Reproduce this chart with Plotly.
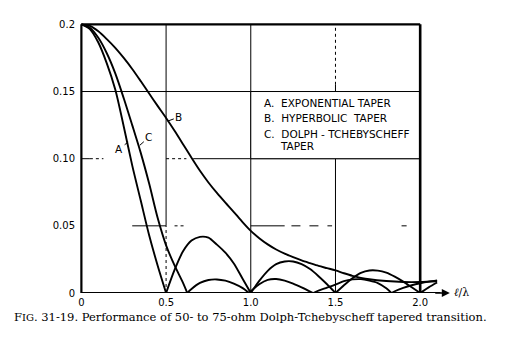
import plotly.graph_objects as go

# l/lambda sample positions and |rho| values
x_A = [0, 0.05, 0.10, 0.15, 0.20, 0.25, 0.30, 0.35, 0.40, 0.45, 0.50, 0.55, 0.60, 0.65, 0.70,
       0.75, 0.80, 0.85, 0.90, 0.95, 1.00, 1.05, 1.10, 1.15, 1.20, 1.25, 1.30, 1.35, 1.40, 1.45,
       1.50, 1.55, 1.60, 1.65, 1.70, 1.75, 1.80, 1.85, 1.90, 1.95, 2.00, 2.05, 2.10]
rho_A = [0.200, 0.1965, 0.1865, 0.171, 0.1515, 0.124, 0.095, 0.069, 0.043, 0.0205, 0.0,
         0.0172, 0.031, 0.039, 0.0418, 0.0412, 0.036, 0.030, 0.022, 0.011, 0.0,
         0.009, 0.0165, 0.0215, 0.0235, 0.0235, 0.0215, 0.0178, 0.0125, 0.0065, 0.0,
         0.0058, 0.011, 0.015, 0.0168, 0.0167, 0.0152, 0.0122, 0.0085, 0.0043, 0.0,
         0.0042, 0.0078]

x_B = [0, 0.05, 0.10, 0.15, 0.20, 0.25, 0.30, 0.35, 0.40, 0.45, 0.50, 0.55, 0.60, 0.65, 0.70,
       0.75, 0.80, 0.85, 0.90, 0.95, 1.00, 1.05, 1.10, 1.15, 1.20, 1.25, 1.30, 1.35, 1.40, 1.45,
       1.50, 1.55, 1.60, 1.65, 1.70, 1.80, 1.90, 2.00, 2.10]
rho_B = [0.200, 0.1988, 0.1948, 0.189, 0.1825, 0.175, 0.1668, 0.1578, 0.1485, 0.1393, 0.1303,
         0.1208, 0.1108, 0.1007, 0.0910, 0.0823, 0.0745, 0.0673, 0.0603, 0.0530, 0.0463,
         0.0408, 0.0362, 0.0324, 0.0293, 0.0267, 0.0243, 0.0222, 0.0202, 0.0185, 0.0168,
         0.0147, 0.0128, 0.0113, 0.0102, 0.0089, 0.0082, 0.0082, 0.0088]

x_C = [0, 0.05, 0.10, 0.15, 0.20, 0.25, 0.30, 0.35, 0.40, 0.45, 0.50, 0.55, 0.60, 0.625,
       0.65, 0.70, 0.75, 0.80, 0.85, 0.90, 0.95, 0.99, 1.05, 1.10, 1.15, 1.20, 1.25, 1.30,
       1.368, 1.40, 1.45, 1.50, 1.55, 1.60, 1.65, 1.70, 1.75, 1.80, 1.83, 1.85, 1.90, 1.95,
       2.00, 2.05, 2.10]
rho_C = [0.200, 0.1975, 0.190, 0.1785, 0.1635, 0.145, 0.125, 0.1045, 0.0815, 0.056, 0.0355,
         0.0205, 0.0075, 0.0, 0.003, 0.0075, 0.0097, 0.0101, 0.0092, 0.0070, 0.0038, 0.0,
         0.0065, 0.0098, 0.0104, 0.0092, 0.0070, 0.0042, 0.0, 0.0018, 0.0040, 0.0063, 0.0088,
         0.0101, 0.0103, 0.0092, 0.0074, 0.0035, 0.0, 0.0013, 0.0038, 0.0058, 0.0073, 0.0085,
         0.0094]

x_ticks = [0, 0.5, 1.0, 1.5, 2.0]
x_ticktext = ["0", "0.5", "1.0", "1.5", "2.0"]
y_ticks = [0, 0.05, 0.10, 0.15, 0.20]
y_ticktext = ["0", "0.05", "0.10", "0.15", "0.2"]

legend_lines = ["A.  EXPONENTIAL TAPER", "B.  HYPERBOLIC  TAPER", "C.  DOLPH - TCHEBYSCHEFF"]
caption = ("F<span style='font-size:10px'>IG</span>. 31-19. Performance of 50- to 75-ohm "
           "Dolph-Tchebyscheff tapered transition.")

# figure geometry (pixels) used to place the caption in paper coordinates
W, H = 519, 351
ML, MR, MT, MB = 78, 48, 19, 58


def lobes(xs, ys):
    """Split a curve at its interior zeros so every lobe is smoothed on its own."""
    X, Y = [], []
    for i, (x, y) in enumerate(zip(xs, ys)):
        X.append(x)
        Y.append(y)
        if y == 0 and 0 < i < len(xs) - 1:
            X.extend([None, x])
            Y.extend([None, y])
    return X, Y


fig = go.Figure()
for xs, ys, name in [(x_B, rho_B, "B"), (x_C, rho_C, "C"), (x_A, rho_A, "A")]:
    X, Y = lobes(xs, ys)
    fig.add_trace(go.Scatter(x=X, y=Y, mode="lines", name=name, connectgaps=False,
                             line=dict(color="black", width=1.9, shape="spline", smoothing=0.8),
                             showlegend=False, hoverinfo="skip"))

shapes = []


def seg(x0, y0, x1, y1, w=1, dash="solid", layer="below"):
    shapes.append(dict(type="line", xref="x", yref="y", x0=x0, y0=y0, x1=x1, y1=y1,
                       line=dict(color="black", width=w, dash=dash), layer=layer))


# grid (scan-like broken lines)
seg(0, 0.15, 2.0, 0.15)
seg(0, 0.10, 0.05, 0.10)
seg(0.05, 0.10, 0.13, 0.10, dash="dot")
seg(0.5, 0.10, 0.62, 0.10, dash="dot")
seg(0.66, 0.10, 2.0, 0.10)
seg(0.30, 0.05, 0.50, 0.05)
seg(0.55, 0.05, 0.62, 0.05, dash="dot")
seg(1.0, 0.05, 1.2, 0.05)
seg(1.24, 0.05, 1.48, 0.05, dash="dash")
seg(1.89, 0.05, 1.92, 0.05)
seg(0.5, 0.05, 0.5, 0.2)
seg(0.5, 0.0, 0.5, 0.05, dash="dot")
seg(1.0, 0.0, 1.0, 0.2)
seg(1.5, 0.0, 1.5, 0.155)
seg(1.5, 0.155, 1.5, 0.2, dash="dot")
# legend box
shapes.append(dict(type="rect", xref="x", yref="y", x0=1.0, x1=2.0, y0=0.10, y1=0.15,
                   fillcolor="white", line=dict(color="black", width=1), layer="below"))
# frame
seg(0, 0.2, 2.0, 0.2, w=2.2, layer="above")
seg(2.0, 0, 2.0, 0.2, w=2.6, layer="above")
seg(0, 0, 0, 0.2, w=2.2, layer="above")
seg(0, 0, 2.12, 0, w=2.2, layer="above")

annotations = []
# axis arrow and label
annotations.append(dict(x=2.175, y=0, ax=2.08, ay=0, xref="x", yref="y", axref="x", ayref="y",
                        text="", showarrow=True, arrowhead=2, arrowsize=1, arrowwidth=1.6,
                        arrowcolor="black"))
annotations.append(dict(x=2.245, y=0.0005, xref="x", yref="y", text="<i>ℓ</i>/λ", showarrow=False,
                        font=dict(family="DejaVu Serif", size=11, color="black")))
annotations.append(dict(x=-0.15, y=0.1196, xref="x", yref="y", text="|<i>ρ</i>|", showarrow=False,
                        font=dict(family="DejaVu Sans", size=11, color="black")))
# legend text
leg_font = dict(family="DejaVu Sans", size=10.5, color="black")
for txt, yy in zip(legend_lines, [0.1412, 0.1300, 0.1181]):
    annotations.append(dict(x=1.065, y=yy, xref="x", yref="y", text=txt, showarrow=False,
                            xanchor="left", yanchor="middle", font=leg_font))
annotations.append(dict(x=1.16, y=0.1092, xref="x", yref="y", text="TAPER", showarrow=False,
                        xanchor="left", yanchor="middle", font=leg_font))
# curve labels with leaders
lab_font = dict(family="DejaVu Sans", size=10.5, color="black")
for (xx, yy, t, ax, ay) in [(0.276, 0.1124, "A", -9, 7), (0.345, 0.110, "C", 9, -8),
                           (0.51, 0.128, "B", 11, -4)]:
    annotations.append(dict(x=xx, y=yy, xref="x", yref="y", text=t, showarrow=True,
                            arrowhead=0, arrowwidth=1, arrowcolor="black", ax=ax, ay=ay,
                            font=lab_font))
# caption (paper coords are relative to the plotting area)
pw, ph = W - ML - MR, H - MT - MB
annotations.append(dict(x=(250 - ML) / pw, y=(H - MB - 317) / ph, xref="paper", yref="paper",
                        text=caption, showarrow=False, xanchor="center", yanchor="middle",
                        font=dict(family="DejaVu Serif", size=11.5, color="black")))

fig.update_layout(
    width=W, height=H,
    margin=dict(l=ML, r=MR, t=MT, b=MB, pad=0),
    paper_bgcolor="white", plot_bgcolor="white",
    xaxis=dict(range=[-0.02, 2.3], tickvals=x_ticks, ticktext=x_ticktext, showgrid=False,
               zeroline=False, showline=False, ticks="", ticklabelstandoff=2,
               tickfont=dict(family="DejaVu Sans", size=10, color="black")),
    yaxis=dict(range=[0, 0.204], tickvals=y_ticks, ticktext=y_ticktext, showgrid=False,
               zeroline=False, showline=False, ticks="", ticklabelstandoff=2,
               tickfont=dict(family="DejaVu Sans", size=10, color="black")),
    shapes=shapes, annotations=annotations,
)

fig.write_html("out.html")
